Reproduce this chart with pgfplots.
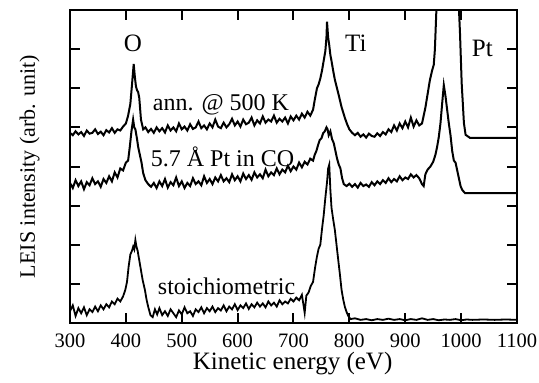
\documentclass[border=0pt]{standalone}
\usepackage{pgfplots}
\pgfplotsset{compat=1.18}
\usepackage{fontspec}
\setmainfont{Liberation Serif}

\begin{document}
\begin{tikzpicture}[x=1pt,y=1pt]
\useasboundingbox (0,0) rectangle (539,383);
\begin{axis}[
  at={(70pt,60pt)}, anchor=south west,
  width=447pt, height=313pt, scale only axis,
  xmin=300, xmax=1100, ymin=0, ymax=8,
  xtick={300,400,...,1100}, ytick={0,1,...,8},
  yticklabels={},
  tick align=inside, major tick length=10pt,
  line width=2pt,
  axis line style={line width=2pt},
  tick style={line width=2pt, black},
  /pgf/number format/assume math mode=true,
  /pgf/number format/1000 sep={},
  xticklabel style={font=\fontsize{20.5}{20.5}\selectfont, anchor=north, inner sep=0pt, yshift=-10pt},
  xlabel={Kinetic energy (eV)},
  xlabel style={font=\fontsize{25}{25}\selectfont, anchor=base, inner sep=0pt, at={(axis description cs:0.498,0)}, yshift=-47pt},
  ylabel={LEIS intensity (arb. unit)},
  ylabel style={font=\fontsize{22}{22}\selectfont, anchor=base, inner sep=0pt, at={(axis description cs:0,0.5)}, yshift=35pt},
  cycle list={{black, mark=none, line width=1.8pt, line join=round}},
]
% ann. @ 500 K
\addplot coordinates {
(300,4.86)(305,4.80)(310,4.90)(315,4.82)(320,4.88)(325,4.78)(330,4.92)(335,4.84)(340,4.86)(345,4.95)
(350,4.83)(355,4.89)(360,4.80)(365,4.93)(370,4.87)(375,4.98)(380,4.86)(385,4.95)(390,4.92)(395,5.02)
(400,5.10)(404,5.30)(408,5.60)(411,6.10)(414,6.62)(416,6.30)(418,6.05)(420,5.95)(422,5.90)(424,5.75)
(427,5.20)(431,4.95)(435,5.00)(440,4.88)(445,4.96)(450,4.86)(455,5.00)(460,4.90)(465,4.98)(470,4.87)
(475,5.05)(480,4.92)(485,5.00)(490,4.90)(495,5.10)(500,4.95)(505,5.02)(510,4.92)(515,5.08)(520,4.96)
(525,5.00)(530,5.15)(535,4.98)(540,5.05)(545,4.95)(550,5.10)(555,5.00)(560,5.20)(565,5.02)(570,4.98)
(575,5.12)(580,5.00)(585,5.08)(590,5.22)(595,5.05)(600,5.15)(605,5.02)(610,5.20)(615,5.08)(620,5.12)
(625,5.25)(630,5.05)(635,5.18)(640,5.10)(645,5.28)(650,5.12)(655,5.20)(660,5.15)(665,5.30)(670,5.12)
(675,5.22)(680,5.15)(685,5.25)(690,5.10)(695,5.28)(700,5.18)(705,5.30)(710,5.20)(715,5.35)(720,5.25)
(725,5.40)(730,5.30)(735,5.45)(738,5.70)(742,6.00)(745,6.10)(748,6.25)(751,6.45)(754,6.70)(757,6.95)
(759,7.30)(760,7.70)(762,7.30)(764,7.10)(766,6.85)(768,6.70)(771,6.45)(774,6.22)(777,6.05)(780,5.88)
(783,5.70)(786,5.52)(789,5.38)(792,5.24)(796,5.08)(800,4.95)(805,4.86)(810,4.80)(815,4.86)(820,4.76)
(825,4.82)(830,4.74)(835,4.84)(840,4.78)(845,4.76)(850,4.85)(855,4.78)(860,4.88)(865,4.82)(870,4.95)
(875,4.88)(880,5.05)(885,4.92)(890,5.10)(895,4.98)(900,5.15)(905,5.00)(910,5.25)(915,5.02)(920,5.18)
(925,5.05)(930,5.10)(933,5.30)(936,5.50)(940,5.85)(944,6.20)(948,6.45)(951,6.60)(953,6.98)(956,8.10)
(960,9.5)(970,11)(980,12)(990,10.5)(995,8.4)(998,7.40)(1001,6.13)(1005,5.11)(1008,4.81)(1016,4.73)(1100,4.73)
};
% 5.7 A Pt in CO
\addplot coordinates {
(300,3.58)(305,3.45)(310,3.65)(315,3.50)(320,3.62)(325,3.42)(330,3.60)(335,3.52)(340,3.70)(345,3.55)
(350,3.62)(355,3.48)(360,3.68)(365,3.58)(370,3.75)(375,3.62)(380,3.85)(385,3.72)(390,3.95)(395,3.90)
(400,4.10)(404,4.15)(407,4.50)(410,4.90)(413,5.20)(415,5.00)(417,4.95)(420,4.70)(422,4.50)(425,4.30)
(428,4.10)(431,3.83)(435,3.65)(440,3.55)(445,3.48)(450,3.58)(455,3.45)(460,3.62)(465,3.50)(470,3.68)
(475,3.46)(480,3.60)(485,3.52)(490,3.72)(495,3.50)(500,3.62)(505,3.45)(510,3.58)(515,3.50)(520,3.70)
(525,3.55)(530,3.62)(535,3.52)(540,3.75)(545,3.58)(550,3.68)(555,3.55)(560,3.72)(565,3.62)(570,3.78)
(575,3.62)(580,3.70)(585,3.60)(590,3.80)(595,3.65)(600,3.75)(605,3.62)(610,3.82)(615,3.68)(620,3.78)
(625,3.66)(630,3.85)(635,3.72)(640,3.80)(645,3.70)(650,3.92)(655,3.75)(660,3.85)(665,3.78)(670,3.95)
(675,3.80)(680,3.92)(685,3.85)(690,4.02)(695,3.88)(700,4.00)(705,3.92)(710,4.10)(715,3.98)(720,4.12)
(725,4.05)(730,4.20)(735,4.15)(738,4.30)(741,4.40)(744,4.55)(747,4.68)(750,4.72)(753,4.85)(756,4.90)
(759,5.00)(761,4.95)(763,4.80)(766,4.90)(769,4.70)(772,4.60)(775,4.40)(778,4.20)(781,4.05)(784,3.95)
(787,3.70)(790,3.55)(795,3.50)(800,3.56)(805,3.48)(810,3.55)(815,3.46)(820,3.58)(825,3.50)(830,3.54)
(835,3.48)(840,3.60)(845,3.52)(850,3.62)(855,3.55)(860,3.65)(865,3.58)(870,3.70)(875,3.60)(880,3.68)
(885,3.62)(890,3.75)(895,3.65)(900,3.72)(905,3.68)(910,3.80)(915,3.72)(920,3.78)(925,3.70)(930,3.55)
(933,3.50)(936,3.80)(940,3.92)(945,4.00)(950,4.12)(954,4.30)(957,4.50)(960,4.75)(963,5.10)(966,5.60)
(969,6.08)(972,5.80)(975,5.45)(978,5.10)(981,4.80)(984,4.40)(987,4.15)(990,4.10)(993,3.90)(996,3.70)
(999,3.50)(1002,3.40)(1007,3.32)(1100,3.32)
};
% stoichiometric
\addplot coordinates {
(300,0.30)(305,0.45)(310,0.18)(315,0.38)(320,0.25)(325,0.40)(330,0.20)(335,0.35)(340,0.28)(345,0.42)
(350,0.30)(355,0.45)(360,0.35)(365,0.48)(370,0.40)(375,0.55)(380,0.48)(385,0.62)(390,0.55)(395,0.68)
(399,0.85)(402,1.05)(405,1.45)(408,1.75)(411,1.85)(413,1.95)(415,1.88)(417,2.12)(419,1.95)(421,1.85)
(424,1.60)(427,1.35)(430,1.10)(434,0.85)(437,0.60)(440,0.41)(444,0.20)(448,0.15)(452,0.35)(456,0.22)
(460,0.38)(465,0.20)(470,0.30)(475,0.18)(480,0.35)(485,0.25)(490,0.15)(495,0.32)(500,0.22)(505,0.40)
(510,0.25)(515,0.30)(520,0.18)(525,0.35)(530,0.28)(535,0.40)(540,0.25)(545,0.38)(550,0.30)(555,0.42)
(560,0.28)(565,0.38)(570,0.32)(575,0.45)(580,0.30)(585,0.42)(590,0.35)(595,0.48)(600,0.33)(605,0.45)
(610,0.38)(615,0.50)(620,0.36)(625,0.48)(630,0.40)(635,0.52)(640,0.42)(645,0.50)(650,0.40)(655,0.55)
(660,0.45)(665,0.52)(670,0.42)(675,0.58)(680,0.48)(685,0.55)(690,0.50)(695,0.62)(700,0.55)(705,0.65)
(710,0.58)(715,0.72)(718,0.45)(720,0.26)(723,0.70)(727,0.78)(731,0.95)(735,1.05)(739,1.45)(742,1.70)
(745,1.90)(748,2.00)(751,2.40)(754,2.75)(757,3.20)(760,3.60)(762,3.95)(764,4.05)(766,3.40)(768,2.95)
(771,2.65)(774,2.38)(777,2.00)(780,1.62)(783,1.25)(786,0.85)(789,0.60)(792,0.41)(795,0.28)(798,0.18)
(802,0.10)(810,0.12)(820,0.08)(830,0.10)(840,0.07)(850,0.10)(860,0.08)(870,0.11)(880,0.08)(890,0.10)
(900,0.07)(910,0.10)(920,0.08)(930,0.12)(940,0.08)(950,0.10)(960,0.07)(970,0.09)(980,0.08)(990,0.10)
(1000,0.07)(1010,0.09)(1020,0.08)(1040,0.09)(1060,0.08)(1080,0.09)(1100,0.08)
};
\node[anchor=base, inner sep=0pt, font=\fontsize{25}{25}\selectfont] at (axis cs:412.7,6.93) {O};
\node[anchor=base, inner sep=0pt, font=\fontsize{25}{25}\selectfont] at (axis cs:811.6,6.93) {Ti};
\node[anchor=base, inner sep=0pt, font=\fontsize{25}{25}\selectfont] at (axis cs:1038,6.82) {Pt};
\node[anchor=base west, inner sep=0pt, font=\fontsize{24}{24}\selectfont] at (axis cs:446.7,5.44) {ann. @ 500 K};
\node[anchor=base west, inner sep=0pt, font=\fontsize{24}{24}\selectfont] at (axis cs:443,3.99) {5.7 Å Pt in CO};
\node[anchor=base west, inner sep=0pt, font=\fontsize{24}{24}\selectfont] at (axis cs:455.6,0.74) {stoichiometric};
\end{axis}
\end{tikzpicture}
\end{document}
